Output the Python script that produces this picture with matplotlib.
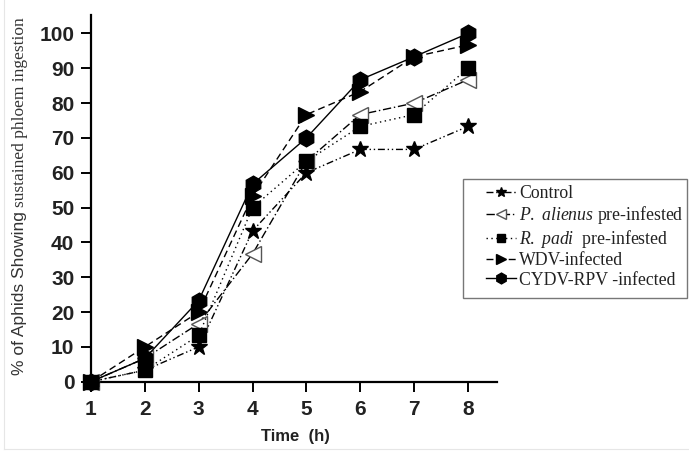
import matplotlib
matplotlib.use("Agg")
import matplotlib.pyplot as plt
from matplotlib.patches import Rectangle
from matplotlib.lines import Line2D

hours = [1, 2, 3, 4, 5, 6, 7, 8]
control = [0, 3.3, 10, 43.3, 60, 66.7, 66.7, 73.3]
p_alienus = [0, 6.7, 16.7, 36.7, 63.3, 76.7, 80, 86.7]
r_padi = [0, 3.3, 13.3, 50, 63.3, 73.3, 76.7, 90]
wdv = [0, 10, 20, 53.3, 76.7, 83.3, 93.3, 96.7]
cydv = [0, 6.7, 23.3, 56.7, 70, 86.7, 93.3, 100]
y_ticks = [0, 10, 20, 30, 40, 50, 60, 70, 80, 90, 100]

plt.rcParams['mathtext.fontset'] = 'custom'
plt.rcParams['mathtext.it'] = 'Liberation Serif:italic'
plt.rcParams['mathtext.rm'] = 'Liberation Serif'

W, H = 689, 454
fig = plt.figure(figsize=(W/100, H/100), dpi=100)
ax = fig.add_axes([91/W, 1-381.7/H, (497-91)/W, (381.7-15)/H])

lw = 1.0
ax.plot(hours, control, color='black', lw=lw, ls=(0, (5, 2, 1, 2, 1, 2)),
        marker='*', ms=12, clip_on=False, label='Control', zorder=3)
ax.plot(hours, p_alienus, color='black', lw=lw, ls=(0, (6, 2, 1, 2)),
        marker='<', ms=12, mfc='white', mec='#555555', mew=1.0, clip_on=False,
        label=r'$\it{P.}$ $\it{alienus}$ pre-infested', zorder=3)
ax.plot(hours, r_padi, color='black', lw=lw, ls=(0, (1, 2.5)),
        marker='s', ms=9.5, clip_on=False,
        label=r'$\it{R.}$ $\it{padi}$  pre-infested', zorder=3)
ax.plot(hours, wdv, color='black', lw=lw, ls=(0, (5, 3)),
        marker='>', ms=12, clip_on=False, label='WDV-infected', zorder=3)
ax.plot(hours, cydv, color='black', lw=lw, ls='-',
        marker='h', ms=12, clip_on=False, label='CYDV-RPV -infected', zorder=3)

ax.set_xlim(1, 8.54)
ax.set_ylim(0, 105.3)
ax.set_xticks(hours)
ax.set_yticks(y_ticks)
for s in ['top', 'right']:
    ax.spines[s].set_visible(False)
for s in ['left', 'bottom']:
    ax.spines[s].set_linewidth(1.6)
ax.tick_params(axis='both', direction='out', length=7, width=1.4)
ax.tick_params(axis='y', pad=5)
ax.tick_params(axis='x', pad=6)
for lab in ax.get_xticklabels() + ax.get_yticklabels():
    lab.set_fontfamily('Liberation Sans')
    lab.set_fontweight('bold')
    lab.set_fontsize(15)
    lab.set_color('#222222')

fig.text(295/W, 1-436/H, 'Time  (h)', ha='center', va='center',
         fontfamily='Liberation Sans', fontweight='bold', fontsize=12, color='#222222')

t1 = fig.text(20/W, 1-375/H, '% of Aphids Showing', rotation=90,
              ha='center', va='bottom', fontfamily='Liberation Sans',
              fontsize=12.5, color='#333333')
fig.canvas.draw()
bb = t1.get_window_extent()
fig.text(20/W, (bb.y1 + 4)/H, 'sustained phloem ingestion', rotation=90,
         ha='center', va='bottom', fontfamily='Liberation Serif',
         fontsize=12.5, color='#333333')

# legend frame drawn separately
fig.patches.append(Rectangle((463/W, 1-298/H), (687-463)/W, (298-179)/H,
                             transform=fig.transFigure, fill=False,
                             edgecolor='#777777', lw=1.0))
leg = fig.legend(loc='upper left', bbox_to_anchor=(486/W, 1-185/H),
                 prop={'family': 'Liberation Serif', 'size': 12.8},
                 handlelength=1.7, handletextpad=0.15, labelspacing=0.12,
                 borderpad=0, borderaxespad=0, frameon=False, markerscale=0.65)
for t in leg.get_texts():
    t.set_color('#222222')

# faint outer border of the original image
fig.add_artist(Line2D([4/W, 4/W], [1-449/H, 1.0], transform=fig.transFigure,
                      color='#e6e6e6', lw=0.8))
fig.add_artist(Line2D([4/W, 1.0], [1-449/H, 1-449/H], transform=fig.transFigure,
                      color='#e6e6e6', lw=0.8))

fig.savefig('out.png', dpi=100)
